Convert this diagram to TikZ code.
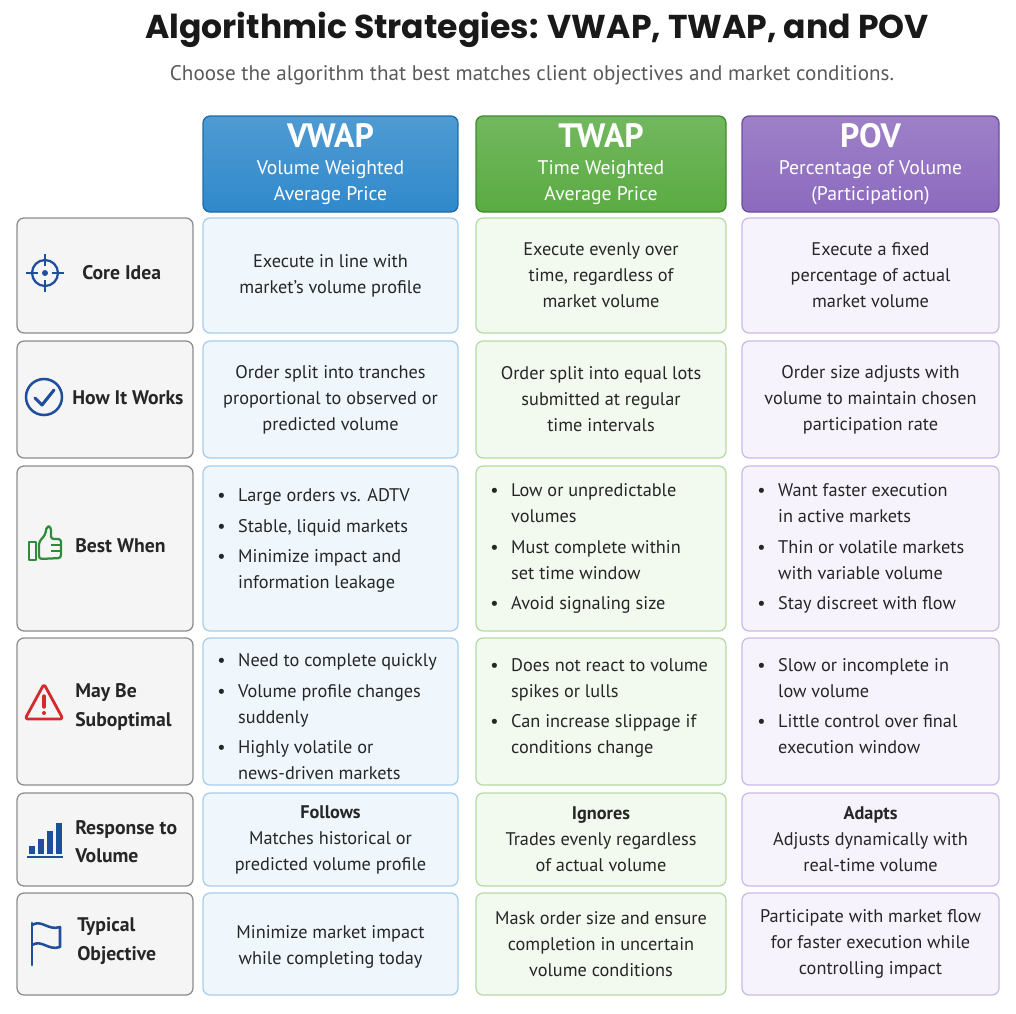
\documentclass[tikz,border=0pt]{standalone}
\usepackage{fontspec}
\setmainfont{PT Sans}
\newfontfamily\titlefont{Poppins}
\usetikzlibrary{positioning,calc}
\definecolor{vb}{HTML}{A9CDEB}\definecolor{vf}{HTML}{EFF6FC}
\definecolor{tb}{HTML}{B5DBA5}\definecolor{tf}{HTML}{F2F9EF}
\definecolor{pb}{HTML}{CDB9E6}\definecolor{pf}{HTML}{F7F3FC}
\definecolor{vhead}{HTML}{3089CB}\definecolor{vedge}{HTML}{1F6AA8}
\definecolor{thead}{HTML}{5AAB42}\definecolor{tedge}{HTML}{3F8A2C}
\definecolor{phead}{HTML}{8C6ABE}\definecolor{pedge}{HTML}{6E4DA0}
\definecolor{iconblue}{HTML}{1F4E9C}
\definecolor{icongreen}{HTML}{2E8B3A}
\definecolor{iconred}{HTML}{D22B2B}
\newcommand\body{\fontsize{13}{18.5}\selectfont}
\newcommand\hbig{\fontsize{24}{26}\selectfont\bfseries}
\tikzset{
	box/.style 2 args={draw=#1, fill=#2, rounded corners=5pt, line width=0.9pt, inner sep=0pt},
	lbl/.style={box={black!45}{black!4}},
	vcell/.style={box={vb}{vf}},
	tcell/.style={box={tb}{tf}},
	pcell/.style={box={pb}{pf}},
	head/.style 2 args={draw=#1, rounded corners=5pt, line width=0.9pt, inner sep=0pt, top color=#2!85!white, bottom color=#2},
	txt/.style={align=center, font=\body, text=black!85, inner sep=0pt},
	bul/.style={anchor=west, align=left, font=\body, text=black!85, inner sep=0pt},
	rowname/.style={anchor=west, align=left, font=\fontsize{14}{20}\selectfont\bfseries, text=black!85, inner sep=0pt},
	htxt/.style={align=center, text=white, inner sep=0pt, font=\fontsize{14}{18.5}\selectfont}
}
\newcommand\bl[1]{\begin{tabular}{@{}c@{\hspace{9pt}}l@{}}#1\end{tabular}}
\begin{document}
\begin{tikzpicture}[x=0.025cm, y=-0.025cm]
\useasboundingbox (0,0) rectangle (1016,1013);

% title
\node[font=\titlefont\fontsize{23.5}{28}\selectfont\bfseries, text=black!90] (title) at (537,30) {Algorithmic Strategies: VWAP, TWAP, and POV};
\node[font=\fontsize{15}{18}\selectfont, text=black!65] (sub) at (532,75) {Choose the algorithm that best matches client objectives and market conditions.};

% headers
\node[head={vedge}{vhead}, minimum width={255*0.025cm}, minimum height={96*0.025cm}] (hv) at (330.5,164) {};
\node[head={tedge}{thead}, minimum width={250*0.025cm}, minimum height={96*0.025cm}] (ht) at (601,164) {};
\node[head={pedge}{phead}, minimum width={257*0.025cm}, minimum height={96*0.025cm}] (hp) at (870.5,164) {};
\node[htxt] at (hv) {\hbig VWAP\\[1pt]\mdseries\fontsize{14}{18.5}\selectfont Volume Weighted\\Average Price};
\node[htxt] at (ht) {\hbig TWAP\\[1pt]\mdseries\fontsize{14}{18.5}\selectfont Time Weighted\\Average Price};
\node[htxt] at (hp) {\hbig POV\\[1pt]\mdseries\fontsize{14}{18.5}\selectfont Percentage of Volume\\(Participation)};

% boxes
\foreach \n/\y/\h in {1/275.5/115, 2/399.5/117, 3/548.5/165, 4/711.5/147, 5/839.5/93, 6/944/102} {
	\node[lbl, minimum width={176*0.025cm}, minimum height={\h*0.025cm}] (l\n) at (105,\y) {};
	\node[vcell, minimum width={255*0.025cm}, minimum height={\h*0.025cm}] (v\n) at (330.5,\y) {};
	\node[tcell, minimum width={250*0.025cm}, minimum height={\h*0.025cm}] (t\n) at (601,\y) {};
	\node[pcell, minimum width={257*0.025cm}, minimum height={\h*0.025cm}] (p\n) at (870.5,\y) {};
}

% row names
\node[rowname] (n1) at (82,273) {Core Idea};
\node[rowname] (n2) at (72,398) {How It Works};
\node[rowname] (n3) at (75,546) {Best When};
\node[rowname] (n4) at (75,707) {May Be\\Suboptimal};
\node[rowname] (n5) at (75,842) {Response to\\Volume};
\node[rowname] (n6) at (77,941) {Typical\\Objective};

% icons
\coordinate (i1) at (45,273);
\draw[iconblue, line width=1.6pt] (i1) circle (13);
\draw[iconblue, line width=1.6pt] ($(i1)+(-19,0)$) -- ($(i1)+(-7,0)$) ($(i1)+(7,0)$) -- ($(i1)+(19,0)$)
	($(i1)+(0,-19)$) -- ($(i1)+(0,-7)$) ($(i1)+(0,7)$) -- ($(i1)+(0,19)$);
\fill[iconblue] (i1) circle (3);
\coordinate (i2) at (44,397);
\draw[iconblue, line width=1.8pt] (i2) circle (18);
\draw[iconblue, line width=2.2pt, line cap=round, line join=round] ($(i2)+(-9,1)$) -- ($(i2)+(-2,8)$) -- ($(i2)+(10,-7)$);
\coordinate (i3) at (45,545);
\draw[icongreen, line width=1.6pt, line join=round] ($(i3)+(-16,-3)$) rectangle ($(i3)+(-9,15)$);
\draw[icongreen, line width=1.6pt, line join=round, rounded corners=2pt] ($(i3)+(-6,-3)$) -- ($(i3)+(0,-10)$) -- ($(i3)+(2,-19)$) -- ($(i3)+(6,-18)$) -- ($(i3)+(6,-6)$) -- ($(i3)+(16,-6)$) -- ($(i3)+(16,13)$) -- ($(i3)+(-6,14)$) -- cycle;
\draw[icongreen, line width=1.2pt] ($(i3)+(6,0)$) -- ($(i3)+(16,0)$) ($(i3)+(6,6)$) -- ($(i3)+(16,6)$);
\coordinate (i4) at (44,704);
\draw[iconred, line width=2pt, line join=round, rounded corners=2pt] ($(i4)+(0,-20)$) -- ($(i4)+(19,15)$) -- ($(i4)+(-19,15)$) -- cycle;
\draw[iconred, line width=2.4pt, line cap=round] ($(i4)+(0,-8)$) -- ($(i4)+(0,3)$);
\fill[iconred] ($(i4)+(0,9)$) circle (2);
\coordinate (i5) at (45,842);
\foreach \k/\hh in {0/8, 1/15, 2/23, 3/31} \fill[iconblue] ($(i5)+(-16+\k*9,12)$) rectangle ++(6,-\hh);
\draw[iconblue, line width=1.6pt] ($(i5)+(-18,15)$) -- ($(i5)+(18,15)$);
\coordinate (i6) at (44,943);
\draw[iconblue, line width=2pt, line cap=round] ($(i6)+(-12,-20)$) -- ($(i6)+(-12,22)$);
\draw[iconblue, line width=1.8pt, line join=round] ($(i6)+(-12,-18)$) .. controls ($(i6)+(-2,-24)$) and ($(i6)+(4,-12)$) .. ($(i6)+(16,-16)$) -- ($(i6)+(16,4)$) .. controls ($(i6)+(4,8)$) and ($(i6)+(-2,-4)$) .. ($(i6)+(-12,2)$);

% row 1
\node[txt] at (v1) {Execute in line with\\market's volume profile};
\node[txt] at (t1) {Execute evenly over\\time, regardless of\\market volume};
\node[txt] at (p1) {Execute a fixed\\percentage of actual\\market volume};
% row 2
\node[txt] at (v2) {Order split into tranches\\proportional to observed or\\predicted volume};
\node[txt] at (t2) {Order split into equal lots\\submitted at regular\\time intervals};
\node[txt] at (p2) {Order size adjusts with\\volume to maintain chosen\\participation rate};
% row 3
\node[bul] at (217,540) {\bl{\textbullet & Large orders vs. ADTV\\[3pt] \textbullet & Stable, liquid markets\\[3pt] \textbullet & Minimize impact and\\ & information leakage}};
\node[bul] at (490,548) {\bl{\textbullet & Low or unpredictable\\ & volumes\\[3pt] \textbullet & Must complete within\\ & set time window\\[3pt] \textbullet & Avoid signaling size}};
\node[bul] at (757,548) {\bl{\textbullet & Want faster execution\\ & in active markets\\[3pt] \textbullet & Thin or volatile markets\\ & with variable volume\\[3pt] \textbullet & Stay discreet with flow}};
% row 4
\node[bul] at (217,718) {\bl{\textbullet & Need to complete quickly\\[3pt] \textbullet & Volume profile changes\\ & suddenly\\[3pt] \textbullet & Highly volatile or\\ & news-driven markets}};
\node[bul] at (490,707) {\bl{\textbullet & Does not react to volume\\ & spikes or lulls\\[3pt] \textbullet & Can increase slippage if\\ & conditions change}};
\node[bul] at (757,707) {\bl{\textbullet & Slow or incomplete in\\ & low volume\\[3pt] \textbullet & Little control over final\\ & execution window}};
% row 5
\node[txt] at (v5) {\textbf{Follows}\\Matches historical or\\predicted volume profile};
\node[txt] at (t5) {\textbf{Ignores}\\Trades evenly regardless\\of actual volume};
\node[txt] at (p5) {\textbf{Adapts}\\Adjusts dynamically with\\real-time volume};
% row 6
\node[txt, yshift=-2] at (v6) {Minimize market impact\\while completing today};
\node[txt] at (t6) {Mask order size and ensure\\completion in uncertain\\volume conditions};
\node[txt] at (p6) {Participate with market flow\\for faster execution while\\controlling impact};
\end{tikzpicture}
\end{document}
